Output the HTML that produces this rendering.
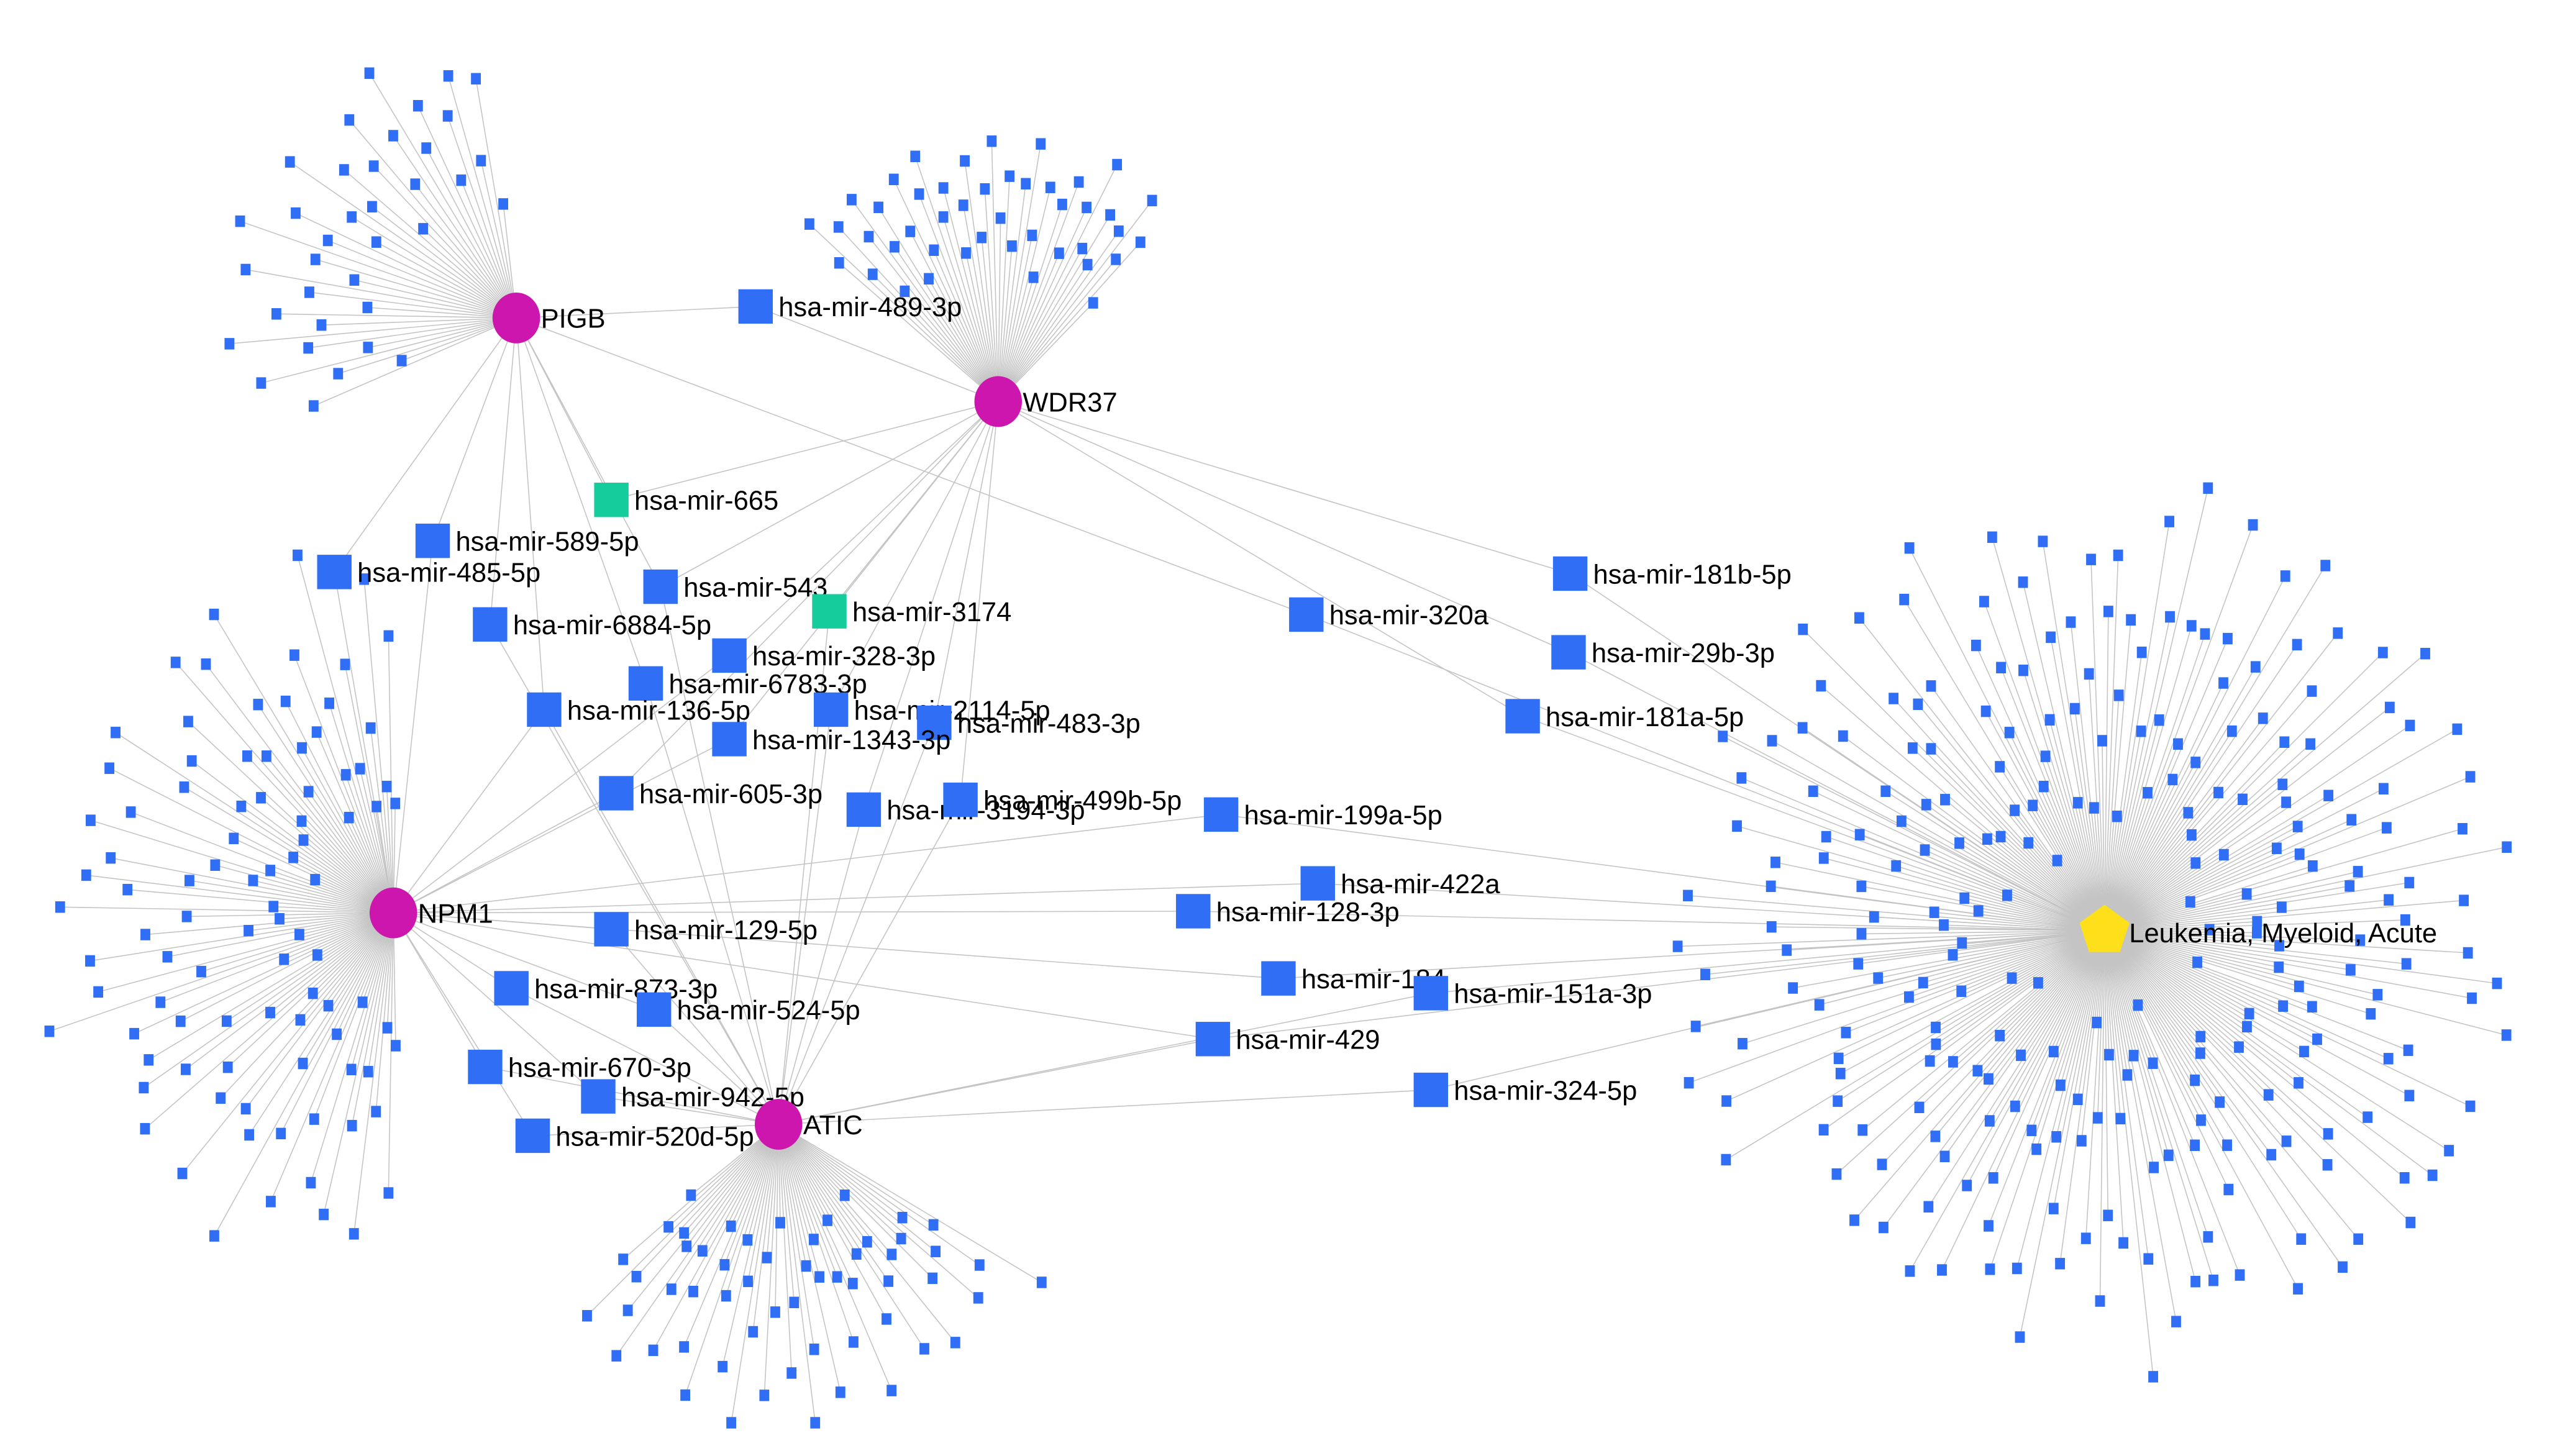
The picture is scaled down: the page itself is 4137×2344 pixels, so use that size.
<!DOCTYPE html>
<html><head><meta charset="utf-8">
<style>
html,body{margin:0;padding:0;background:#fff;}
svg{display:block;}
text{font-family:"Liberation Sans",Arial,sans-serif;font-size:16.5px;fill:#000;}
</style></head>
<body>
<svg id="g" xmlns="http://www.w3.org/2000/svg" width="4137" height="2344" viewBox="0 0 1568 888.4">
<rect width="1568" height="888.4" fill="#fff"/>
<g id="edges" stroke="#c4c4c4" stroke-width="0.6"></g>
<g id="sats" fill="#2f6ef5"></g>
<g id="mids"></g>
<g id="hubs"></g>
</svg>
<script>
var NS="http://www.w3.org/2000/svg";
var H={PIGB:[315,194],WDR37:[609,245],NPM1:[240,557],ATIC:[475,686],L:[1284,568]};
var E=document.getElementById('edges'),S=document.getElementById('sats'),M=document.getElementById('mids'),HB=document.getElementById('hubs');
function el(t,a,p){var e=document.createElementNS(NS,t);for(var k in a)e.setAttribute(k,a[k]);p.appendChild(e);return e;}
function line(a,b){el('line',{x1:a[0],y1:a[1],x2:b[0],y2:b[1]},E);}
var seed=7;function rnd(){seed=(seed*16807)%2147483647;return seed/2147483647;}
function fan(h,a0,a1,rmin,rmax,n){
  var c=H[h];
  for(var i=0;i<n;i++){
    var a=(a0+(a1-a0)*(i+0.5)/n)*Math.PI/180;
    var r=rmin+(rmax-rmin)*(((i*0.618)%1)*0.8+rnd()*0.2);
    var p=[c[0]+r*Math.cos(a),c[1]-r*Math.sin(a)];
    line(c,p);
    el('rect',{x:p[0]-3,y:p[1]-3.5,width:6,height:7},S);
  }
}
fan('PIGB',95,205,70,185,36);
fan('WDR37',45,140,75,175,44);
fan('NPM1',88,272,35,235,92);
fan('ATIC',218,330,50,195,56);
fan('L',0,360,45,285,260);
var mids=[
["hsa-mir-489-3p",461,187,0,["PIGB","WDR37"]],
["hsa-mir-665",373,305,1,["PIGB","WDR37"]],
["hsa-mir-589-5p",264,330,0,["PIGB","NPM1"]],
["hsa-mir-485-5p",204,349,0,["PIGB","NPM1"]],
["hsa-mir-543",403,358,0,["PIGB","WDR37","ATIC"]],
["hsa-mir-3174",506,373,1,["WDR37","ATIC"]],
["hsa-mir-6884-5p",299,381,0,["PIGB","ATIC"]],
["hsa-mir-328-3p",445,400,0,["WDR37","NPM1"]],
["hsa-mir-6783-3p",394,417,0,["PIGB","ATIC"]],
["hsa-mir-136-5p",332,433,0,["NPM1","ATIC","PIGB"]],
["hsa-mir-2114-5p",507,433,0,["WDR37","ATIC"]],
["hsa-mir-483-3p",570,441,0,["WDR37","ATIC"]],
["hsa-mir-1343-3p",445,451,0,["WDR37","NPM1"]],
["hsa-mir-605-3p",376,484,0,["WDR37","NPM1"]],
["hsa-mir-3194-3p",527,494,0,["WDR37","ATIC"]],
["hsa-mir-499b-5p",586,488,0,["WDR37","ATIC"]],
["hsa-mir-199a-5p",745,497,0,["NPM1","L"]],
["hsa-mir-320a",797,375,0,["PIGB","L"]],
["hsa-mir-181b-5p",958,350,0,["WDR37","L"]],
["hsa-mir-29b-3p",957,398,0,["WDR37","L"]],
["hsa-mir-181a-5p",929,437,0,["WDR37","L"]],
["hsa-mir-422a",804,539,0,["NPM1","L"]],
["hsa-mir-128-3p",728,556,0,["NPM1","L"]],
["hsa-mir-129-5p",373,567,0,["NPM1","ATIC"]],
["hsa-mir-184",780,597,0,["NPM1","L"]],
["hsa-mir-151a-3p",873,606,0,["ATIC","L"]],
["hsa-mir-873-3p",312,603,0,["NPM1","ATIC"]],
["hsa-mir-524-5p",399,616,0,["NPM1","ATIC"]],
["hsa-mir-429",740,634,0,["NPM1","ATIC","L"]],
["hsa-mir-670-3p",296,651,0,["NPM1","ATIC"]],
["hsa-mir-942-5p",365,669,0,["NPM1","ATIC"]],
["hsa-mir-324-5p",873,665,0,["ATIC","L"]],
["hsa-mir-520d-5p",325,693,0,["NPM1","ATIC"]]
];
mids.forEach(function(m){
  m[4].forEach(function(h){line([m[1],m[2]],H[h]);});
  el('rect',{x:m[1]-10.5,y:m[2]-10.5,width:21,height:21,fill:m[3]?'#14cc9c':'#2f6ef5'},M);
  var t=el('text',{x:m[1]+14,y:m[2]+6},M);t.textContent=m[0];
});
["PIGB","WDR37","NPM1","ATIC"].forEach(function(h){
  var c=H[h];el('ellipse',{cx:c[0],cy:c[1],rx:14.5,ry:15.5,fill:'#cc16ae'},HB);
  var t=el('text',{x:c[0]+15,y:c[1]+6},HB);t.textContent=h;
});
var c=H.L,pts=[];for(var i=0;i<5;i++){var a=(-90+72*i)*Math.PI/180;pts.push((c[0]+16*Math.cos(a)).toFixed(1)+','+(c[1]+16*Math.sin(a)).toFixed(1));}
el('polygon',{points:pts.join(' '),fill:'#fde01a'},HB);
var t=el('text',{x:c[0]+15,y:c[1]+7},HB);t.textContent="Leukemia, Myeloid, Acute";
</script>
</body></html>
